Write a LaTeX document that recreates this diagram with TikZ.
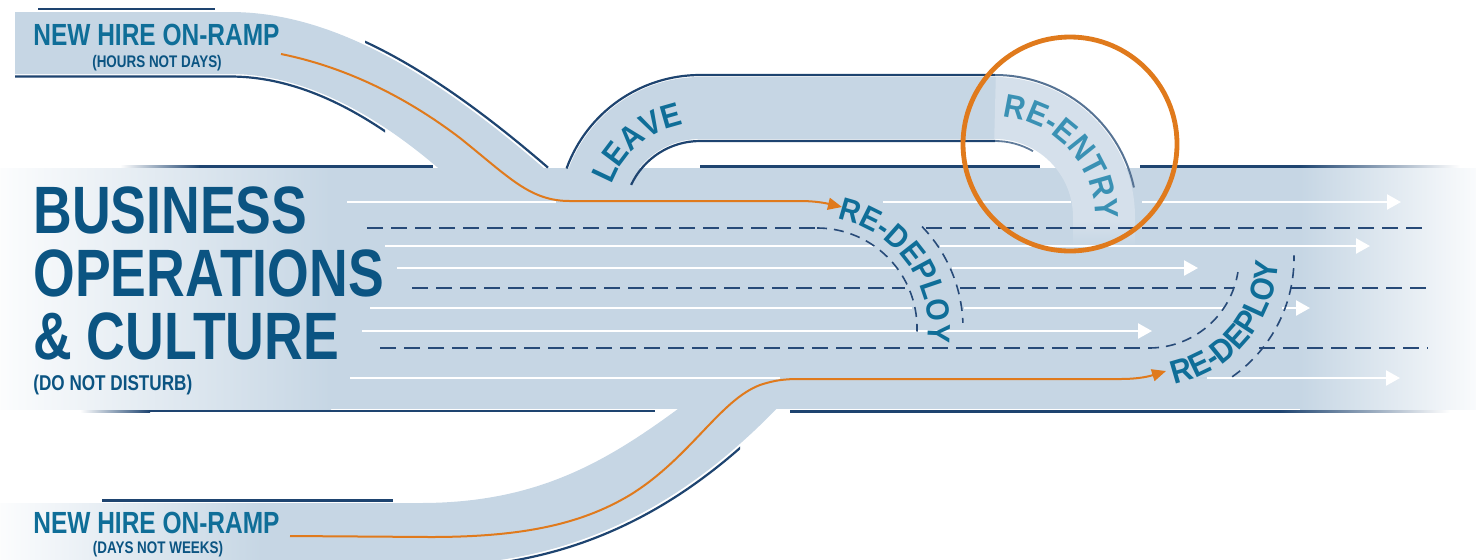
\documentclass[tikz,border=0pt]{standalone}
\usepackage{fontspec}
\usetikzlibrary{arrows.meta,decorations.text}
\newfontfamily\condf[FakeStretch=0.8]{Liberation Sans}
\newfontfamily\arcf[FakeStretch=0.9]{Liberation Sans}
\definecolor{roadc}{HTML}{C6D6E4}
\definecolor{lightc}{HTML}{D5E0EB}
\definecolor{darkc}{HTML}{1E4470}
\definecolor{dashc}{HTML}{274A78}
\definecolor{titlec}{HTML}{0B5482}
\definecolor{labc}{HTML}{0F6E98}
\definecolor{entryc}{HTML}{3A91B4}
\definecolor{orangec}{HTML}{E07A1C}
\begin{document}
\begin{tikzpicture}[x=0.5pt,y=-0.5pt,
  lane/.style={white,line width=1.2pt},
  lanearrow/.style={lane,-{Triangle[length=7pt,width=7.5pt]}},
  lanedash/.style={dashc,line width=1pt,dash pattern=on 8pt off 4pt},
  arcdash/.style={dashc,line width=0.8pt,dash pattern=on 5pt off 3.5pt},
  edgeline/.style={darkc,line width=1.1pt},
  orangepath/.style={orangec,line width=1pt,-{Triangle[length=7pt,width=6pt]}},
  bigtitle/.style={anchor=base west,inner sep=0pt,text=titlec,font=\condf\bfseries\fontsize{33.5}{33.5}\selectfont},
  ramplabel/.style={anchor=base west,inner sep=0pt,text=labc,font=\condf\bfseries\fontsize{15.3}{15.3}\selectfont},
  subnote/.style={anchor=base,inner sep=0pt,text=titlec,font=\condf\bfseries\fontsize{8.4}{8.4}\selectfont},
]
\useasboundingbox (0,0) rectangle (1476,559);
\clip (0,0) rectangle (1476,559);

% ---------- fills ----------
% upper on-ramp
\fill[roadc] (15,12) -- (230,12) .. controls (330,12) and (430,70) .. (546,170) -- (561,183) -- (458,185) -- (437,167) .. controls (370,110) and (300,74) .. (230,74) -- (15,74) -- cycle;
% lower on-ramp
\fill[roadc] (0,503) -- (420,503) .. controls (540,503) and (610,460) .. (690,400) -- (785,400) .. controls (700,490) and (590,565) .. (430,565) -- (0,565) -- cycle;
\shade[left color=roadc!6!white,right color=roadc] (0,503) rectangle (262,562);
% main road
\shade[left color=roadc!6!white,right color=roadc] (0,168) rectangle (331,409);
\fill[roadc] (330,168) rectangle (1301,409);
\shade[left color=roadc,right color=roadc!10!white] (1300,168) rectangle (1476,409);
% leave band
\draw[roadc,line width=31pt] (591,235) -- (591,217) arc[start angle=180,end angle=270,radius=109] -- (996,108);
% re-entry band
\draw[lightc,line width=31pt] (995,108) arc[start angle=270,end angle=360,radius=109] -- (1104,222);
\shade[top color=lightc,bottom color=roadc] (1073,221) rectangle (1135,246);

% ---------- dark edges ----------
\draw[edgeline] (38,9) -- (215,9);
\begin{scope}
  \clip (365,0) rectangle (549,175);
  \draw[edgeline] (232,9.6) .. controls (332,9.6) and (432,67.6) .. (548,167.6);
\end{scope}
\begin{scope}
  \clip (0,60) rectangle (385,140);
  \draw[edgeline] (15,76.5) -- (230,76.5) .. controls (300,76.5) and (368,112.5) .. (435,169.5);
\end{scope}
\draw[edgeline] (700,217) ++(200:142) arc[start angle=200,end angle=270,radius=142] -- (995,75);
\draw[darkc!75!white,line width=1pt] (995,75) arc[start angle=270,end angle=348,radius=142];
\draw[edgeline] (700,217) ++(205:76) arc[start angle=205,end angle=270,radius=76] -- (995,141);
\draw[darkc!70!white,line width=0.9pt] (995,141) arc[start angle=270,end angle=300,radius=76];
\shade[left color=white,right color=darkc] (120,165.5) rectangle (200,167.5);
\draw[edgeline] (199,166.5) -- (433,166.5);
\draw[edgeline] (700,166.5) -- (1040,166.5);
\draw[edgeline] (1140,166.5) -- (1300,166.5);
\shade[left color=darkc,right color=white] (1299,165.5) rectangle (1460,167.5);
\shade[left color=white,right color=darkc] (80,410) rectangle (150,412);
\draw[edgeline] (149,411) -- (655,411);
\draw[edgeline] (790,411.5) -- (1280,411.5);
\shade[left color=darkc,right color=white] (1279,410.5) rectangle (1450,412.5);
\draw[edgeline] (102,500.5) -- (393,500.5);
\begin{scope}
  \clip (480,420) rectangle (740,560);
  \draw[edgeline] (432,567.5) .. controls (592,567.5) and (702,492.5) .. (787,402.5);
\end{scope}

% ---------- lanes ----------
\draw[lane] (347,202) -- (556,202);
\draw[lane] (883,202) -- (1071,202);
\draw[lanearrow] (1142,202) -- (1401,202);
\draw[lanedash] (367,228) -- (817,228);
\draw[lanedash] (926,228) -- (1428,228);
\draw[lane] (385,246) -- (874,246);
\draw[lanearrow] (940,246) -- (1370,246);
\draw[lane] (397,268) -- (897,268);
\draw[lanearrow] (952,268) -- (1198,268);
\draw[lanedash] (412,288) -- (905,288);
\draw[lanedash] (960,288) -- (1234,288);
\draw[lanedash] (1290,288) -- (1428,288);
\draw[lane] (370,308) -- (912,308);
\draw[lane] (964,308) -- (1224,308);
\draw[lanearrow] (1282,308) -- (1310,308);
\draw[lanearrow] (362,331) -- (1152,331);
\draw[lanedash] (380,348) -- (1149,348);
\draw[lanedash] (1259,348) -- (1428,348);
\draw[lane] (350,378) -- (780,378);
\draw[lanearrow] (1207,378) -- (1400,378);

% re-deploy dashed arcs
\draw[arcdash] (817,228) arc[start angle=270,end angle=362,radius=100];
\draw[arcdash] (817,328) ++(316:146) arc[start angle=316,end angle=358,radius=146];
\draw[arcdash] (1149,348) arc[start angle=90,end angle=9,radius=90];
\draw[arcdash] (1149,258) ++(55:145) arc[start angle=55,end angle=-1,radius=145];

% ---------- orange routes ----------
\coordinate (o1s) at (281,54);
\coordinate (o1e) at (842,207);
\draw[orangepath] (o1s) .. controls (350,68) and (410,100) .. (460,138) .. controls (510,178) and (530,201) .. (570,201) -- (800,201) .. controls (815,201) and (825,203) .. (o1e);
\coordinate (o2s) at (290,536);
\coordinate (o2e) at (1166,371);
\draw[orangepath] (o2s) -- (430,537) .. controls (520,537) and (580,525) .. (630,495) .. controls (690,458) and (720,400) .. (760,385) .. controls (775,380) and (785,379) .. (800,379) -- (1120,379) .. controls (1140,379) and (1150,376) .. (o2e);

\node[draw=orangec,line width=2.4pt,circle,minimum size=107pt,inner sep=0pt] (ring) at (1070,144) {};

% ---------- texts ----------
\node[bigtitle] (t1) at (33,233) {BUSINESS};
\node[bigtitle] (t2) at (33,296) {OPERATIONS};
\node[bigtitle] (t3) at (33,359) {\& CULTURE};
\node[anchor=base west,inner sep=0pt,text=titlec,font=\condf\bfseries\fontsize{10.7}{10.7}\selectfont] (t4) at (33,390) {(DO NOT DISTURB)};
\node[ramplabel] (n1) at (33,45) {NEW HIRE ON-RAMP};
\node[subnote] (n1s) at (157,67) {(HOURS NOT DAYS)};
\node[ramplabel] (n2) at (33,533) {NEW HIRE ON-RAMP};
\node[subnote] (n2s) at (158,553) {(DAYS NOT WEEKS)};

\path[decorate,decoration={text along path,text align=center,text color=labc,text={|\arcf\bfseries\fontsize{16.5}{16.5}\selectfont|LEAVE}}] (700,217) ++(188:94) arc[start angle=188,end angle=272,radius=94];
\path[decorate,decoration={text along path,text align=center,text color=entryc,text={|\arcf\bfseries\fontsize{16.5}{16.5}\selectfont|RE-ENTRY}}] (995,217) ++(270:100) arc[start angle=270,end angle=366,radius=100];
\path[decorate,decoration={text along path,text align=center,text color=labc,text={|\arcf\bfseries\fontsize{16}{16}\selectfont|RE-DEPLOY}}] (817,328) ++(276:111) arc[start angle=276,end angle=372,radius=111];
\path[decorate,decoration={text along path,text align=center,text color=labc,text={|\arcf\bfseries\fontsize{16.5}{16.5}\selectfont|RE-DEPLOY}}] (1149,258) ++(88:129) arc[start angle=88,end angle=-8,radius=129];
\end{tikzpicture}
\end{document}
